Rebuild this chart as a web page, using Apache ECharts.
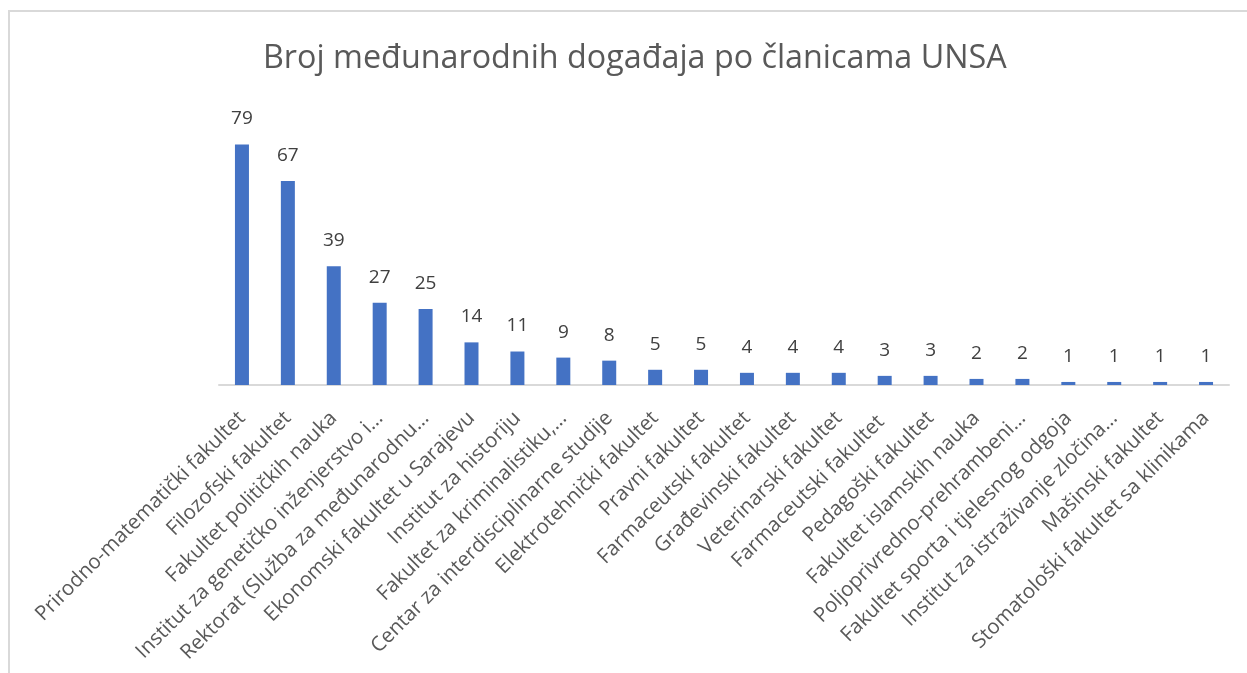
<!DOCTYPE html>
<html>
<head>
<meta charset="utf-8">
<script src="https://cdn.jsdelivr.net/npm/echarts@6/dist/echarts.min.js"></script>
<style>
  html, body { margin: 0; padding: 0; background: #fff; }
  #chart { width: 1247px; height: 673px; }
</style>
</head>
<body>
<div id="chart"></div>
<script>
// kategorije (članice UNSA), kako su prikazane na osi
const categories = [
    'Prirodno-matematički fakultet',
    'Filozofski fakultet',
    'Fakultet političkih nauka',
    'Institut za genetičko inženjerstvo i…',
    'Rektorat (Služba za međunarodnu…',
    'Ekonomski fakultet u Sarajevu',
    'Institut za historiju',
    'Fakultet za kriminalistiku,…',
    'Centar za interdisciplinarne studije',
    'Elektrotehnički fakultet',
    'Pravni fakultet',
    'Farmaceutski fakultet',
    'Građevinski fakultet',
    'Veterinarski fakultet',
    'Farmaceutski fakultet ',
    'Pedagoški fakultet',
    'Fakultet islamskih nauka',
    'Poljoprivredno-prehrambeni…',
    'Fakultet sporta i tjelesnog odgoja',
    'Institut za istraživanje zločina…',
    'Mašinski fakultet',
    'Stomatološki fakultet sa klinikama'
];

// broj međunarodnih događaja
const eventCounts = [79, 67, 39, 27, 25, 14, 11, 9, 8, 5, 5, 4, 4, 4, 3, 3, 2, 2, 1, 1, 1, 1];

const chartTitle = 'Broj međunarodnih događaja po članicama UNSA';

const myChart = echarts.init(document.getElementById('chart'));

const option = {
    animation: false,
    textStyle: { fontFamily: 'Open Sans' },
    title: {
        text: chartTitle,
        left: 258,
        top: 38,
        textStyle: {
            color: '#595959',
            fontSize: 32.3,
            fontWeight: 'normal',
            fontFamily: 'Open Sans'
        }
    },
    graphic: [{
        type: 'rect',
        silent: true,
        shape: { x: 9, y: 11, width: 1400, height: 800 },
        style: { fill: 'none', stroke: '#d9d9d9', lineWidth: 2 }
    }],
    grid: {
        left: 219,
        right: 18,
        top: 111,
        bottom: 288,
        containLabel: false
    },
    xAxis: {
        type: 'category',
        data: categories,
        axisLine: { lineStyle: { color: '#d9d9d9', width: 2 } },
        axisTick: { show: false },
        axisLabel: {
            interval: 0,
            rotate: 45,
            color: '#595959',
            fontSize: 20.5,
            margin: 30
        }
    },
    yAxis: {
        type: 'value',
        min: 0,
        max: 90,
        show: false,
        splitLine: { show: false }
    },
    series: [{
        type: 'bar',
        data: eventCounts,
        barWidth: 14,
        itemStyle: { color: '#4472C4' },
        label: {
            show: true,
            position: 'top',
            distance: 16,
            color: '#404040',
            fontSize: 19
        }
    }]
};

myChart.setOption(option);
</script>
</body>
</html>
